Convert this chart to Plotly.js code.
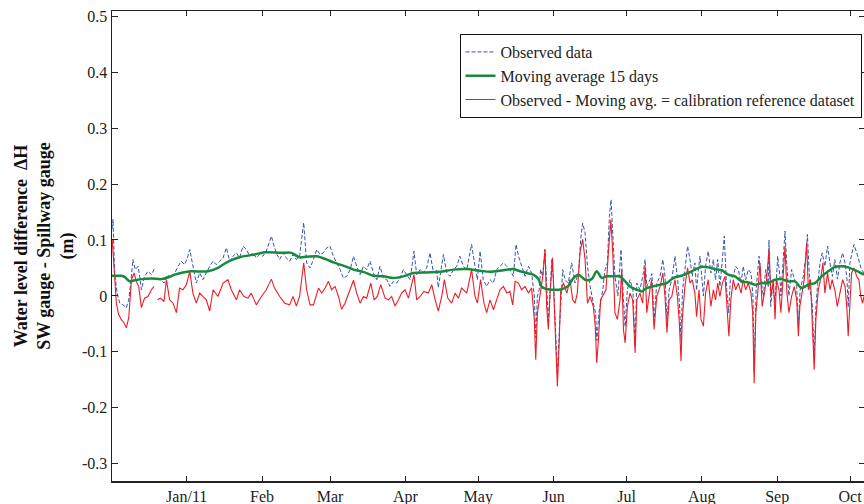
<!DOCTYPE html>
<html>
<head>
<meta charset="utf-8">
<script src="https://cdn.plot.ly/plotly-3.0.1.min.js"></script>
<style>
html,body{margin:0;padding:0;background:#fff;overflow:hidden;}
#chart{width:866px;height:504px;}
</style>
</head>
<body>
<div id="chart"></div>
<script>
// Day offsets measured from 2010-12-01 06:00 (left edge of the plot)
const startDate = "2010-12-01 06:00";

const obsDay = [0,0.4,1.1,2.1,3.2,4.5,5.9,6.9,7.7,8.6,9.6,10.7,11.4,12.1,13.4,14.8,16.2,17.6,18.2,18.7,20.0,21.4,22.8,24.1,25.5,27.2,28.5,29.9,31.0,32.0,33.3,34.7,36.1,37.4,38.8,40.2,41.6,42.9,44.3,45.7,47.1,48.4,49.8,51.2,52.5,53.9,55.3,56.7,58.0,59.4,60.8,62.1,63.5,64.6,65.6,66.7,67.9,69.0,70.4,71.7,73.1,74.5,75.9,77.2,78.9,80.1,81.5,82.9,84.3,85.6,87.0,88.4,89.7,91.1,92.5,93.9,95.2,96.6,98.0,99.4,100.7,102.1,103.5,104.8,106.2,107.6,109.0,110.3,111.7,113.1,114.4,115.8,117.2,118.6,119.9,121.3,122.7,124.3,125.4,126.8,128.2,129.5,130.9,132.3,133.6,134.3,135.0,136.4,137.8,139.1,140.5,141.9,143.2,144.6,146.0,148.0,149.4,150.4,151.5,152.8,154.2,155.6,157.0,158.3,159.7,161.1,162.5,163.8,165.2,166.3,167.3,168.6,170.0,171.4,172.7,173.8,174.4,175.1,175.8,176.4,177.3,178.2,179.0,179.6,180.3,181.0,181.7,182.6,183.3,184.2,185.5,186.5,187.8,189.2,190.6,192.0,192.9,193.7,194.7,195.7,196.8,198.1,199.0,199.6,200.4,202.0,202.9,203.9,204.7,205.4,206.1,207.0,208.2,209.5,210.5,211.2,212.1,213.2,214.4,215.3,216.0,217.3,218.7,219.4,220.1,221.4,222.2,223.1,224.2,225.6,226.7,227.6,228.4,229.3,230.4,231.7,232.8,233.5,234.2,234.8,235.8,236.9,237.9,238.8,239.9,240.6,241.3,242.0,243.4,244.3,245.4,246.5,247.5,248.4,249.3,250.2,251.2,252.0,253.0,253.8,254.5,255.7,256.7,257.8,258.9,259.8,260.8,261.9,263.0,263.8,264.3,265.1,266.3,267.1,268.1,269.0,270.1,270.4,271.1,271.9,272.9,273.6,274.0,274.9,275.3,275.9,277.0,277.7,278.6,279.7,280.8,281.8,282.5,283.2,284.5,285.6,286.2,287.3,288.2,289.0,289.7,290.4,291.4,292.3,293.4,294.5,295.5,296.5,297.5,298.6,299.6,300.7,301.7,302.5,303.0,303.7,304.4,305.4,306.5,307.4,308.5,309.5];
const obsVal = [0.12,0.137,0.041,0.005,-0.013,-0.016,-0.021,-0.007,0.023,0.065,0.047,0.053,0.035,0.011,0.035,0.044,0.038,0.050,null,0.032,0.029,0.023,0.038,0.032,0.038,0.053,0.062,0.056,0.068,0.083,0.053,0.023,0.041,0.029,0.041,0.053,0.062,0.056,0.062,0.068,0.086,0.062,0.071,0.077,0.068,0.089,0.083,0.071,0.077,0.068,0.074,0.071,0.080,0.095,0.107,0.089,0.074,0.065,0.077,0.068,0.062,0.074,0.065,0.071,0.131,0.059,0.050,0.065,0.083,0.074,0.077,0.086,0.089,0.071,0.059,0.047,0.032,0.035,0.047,0.071,0.053,0.038,0.053,0.047,0.062,0.041,0.029,0.053,0.032,0.029,0.017,0.026,0.023,0.032,0.047,0.038,0.029,0.080,0.038,0.047,0.041,0.050,0.077,0.041,0.047,0.015,0.035,0.074,0.041,0.035,0.047,0.053,0.071,0.053,0.047,0.092,0.053,0.029,0.080,0.029,0.017,0.029,0.023,0.047,0.053,0.059,0.053,0.047,0.035,0.092,0.071,0.053,0.035,0.053,0.041,0.000,-0.075,0.000,0.011,0.047,0.035,0.083,0.017,-0.045,0.005,0.065,0.029,-0.060,-0.140,-0.054,0.047,0.029,0.023,0.059,0.023,0.041,0.101,0.130,0.113,0.053,0.017,-0.013,-0.030,-0.080,-0.030,0.011,0.047,0.059,0.142,0.172,0.119,0.035,0.000,0.083,-0.007,-0.055,0.011,0.029,0.010,-0.090,0.023,0.011,0.041,0.065,0.017,0.029,0.040,-0.045,0.023,0.035,0.065,0.035,-0.045,0.011,0.029,0.071,0.029,-0.010,-0.080,0.010,0.047,0.089,0.065,0.035,0.059,0.010,0.045,0.071,0.000,0.053,0.080,0.041,0.065,0.029,0.065,0.017,0.065,0.107,0.011,-0.030,0.029,0.035,0.053,0.047,0.023,0.053,0.029,0.047,0.041,0.000,-0.135,0.011,0.071,0.029,-0.001,0.047,0.017,0.100,-0.019,0.017,-0.010,0.060,0.071,0.035,0.000,0.041,0.116,0.059,0.000,0.047,0.029,0.017,-0.055,0.010,0.035,0.071,0.110,0.011,-0.013,-0.110,-0.020,0.020,0.059,0.077,0.053,0.089,0.059,0.035,0.065,0.030,0.059,0.077,0.059,0.030,-0.020,0.059,0.074,0.092,0.077,0.065,0.047,0.041];

const avgDay = [0,3.8,5.2,7.3,9.3,12.1,16.2,20.3,23.0,25.8,29.2,32.6,39.5,43.6,46.4,49.1,53.2,58.7,62.8,69.7,73.8,77.2,80.1,84.3,88.4,91.1,93.9,96.6,99.4,103.5,107.6,111.7,115.8,119.9,124.0,129.5,135.0,140.5,146.0,151.5,155.6,161.1,165.2,168.0,170.7,173.4,175.5,176.9,179.6,182.4,185.1,187.8,189.9,192.0,194.7,197.4,199.5,201.6,203.6,206.4,209.1,211.2,213.2,216.0,218.0,220.1,222.8,225.6,228.3,231.0,234.4,237.2,239.9,242.7,245.4,248.2,250.9,253.6,256.4,259.1,261.9,264.6,267.4,270.1,272.9,275.6,278.3,281.1,283.8,286.6,289.3,292.1,294.8,297.5,300.3,303.0,305.8,309.5];
const avgVal = [0.036,0.036,0.034,0.026,0.028,0.030,0.031,0.030,0.033,0.038,0.042,0.044,0.044,0.050,0.058,0.064,0.070,0.074,0.078,0.077,0.077,0.069,0.070,0.071,0.065,0.060,0.056,0.052,0.047,0.043,0.036,0.035,0.032,0.035,0.041,0.042,0.043,0.047,0.048,0.045,0.043,0.046,0.048,0.044,0.041,0.038,0.030,0.016,0.012,0.011,0.012,0.018,0.032,0.038,0.029,0.030,0.044,0.032,0.035,0.035,0.035,0.026,0.017,0.011,0.008,0.014,0.017,0.020,0.023,0.032,0.036,0.041,0.047,0.052,0.051,0.048,0.046,0.038,0.035,0.026,0.024,0.020,0.023,0.023,0.029,0.030,0.026,0.026,0.014,0.020,0.023,0.035,0.044,0.052,0.053,0.051,0.046,0.038];

const resDay = [0.1,0.8,1.8,2.7,3.8,4.9,5.9,6.9,8.0,9.1,10.0,11.0,12.1,13.4,14.8,16.2,17.3,18.2,18.7,20.0,21.4,22.4,23.7,25.1,26.5,27.8,29.2,30.6,32.0,33.3,34.7,36.1,37.4,38.8,40.2,41.6,43.6,45.7,47.7,49.1,51.2,52.5,54.3,56.0,57.3,59.4,61.5,63.5,65.6,66.9,69.0,71.1,73.1,74.5,75.9,77.2,78.9,80.1,81.5,82.9,85.0,86.3,87.7,89.1,90.4,91.8,93.2,94.5,95.9,97.3,99.4,100.7,102.1,103.5,104.8,106.5,107.9,109.2,110.6,112.4,113.8,115.1,116.5,117.9,119.2,120.6,122.0,124.3,125.4,126.8,128.4,130.2,131.6,133.0,134.3,135.7,136.8,138.2,139.8,141.2,142.6,143.9,146.0,148.0,149.4,150.4,151.7,153.1,154.2,155.6,157.0,158.3,159.7,161.1,162.5,163.8,164.9,165.9,167.3,168.6,170.0,171.4,172.7,173.8,174.4,175.1,176.2,177.3,178.2,178.9,179.6,180.3,181.3,181.9,182.6,183.3,184.0,184.7,185.8,187.2,188.5,189.6,190.6,191.5,192.6,193.7,194.7,195.7,196.8,198.1,198.9,199.5,200.3,201.1,202.2,203.3,204.3,205.3,206.1,207.0,208.0,209.1,209.8,210.5,211.2,212.1,213.2,214.3,215.3,216.0,217.3,218.4,219.4,220.1,221.4,222.1,223.1,224.2,225.6,226.7,227.6,228.4,229.3,230.4,231.7,232.7,233.5,234.2,234.7,235.8,236.9,237.9,238.8,239.9,240.6,241.6,242.4,243.4,244.3,245.4,246.5,247.5,248.4,249.3,250.2,251.2,252.3,253.2,253.9,254.7,255.7,256.7,257.8,258.9,259.8,260.8,261.9,263.0,263.7,264.3,265.0,266.0,266.7,267.6,268.5,269.4,270.4,271.2,272.2,272.9,273.5,274.5,275.3,276.3,277.0,277.8,278.6,279.7,280.8,281.8,282.5,283.1,284.1,284.9,285.9,286.6,287.5,288.2,289.0,289.7,290.7,291.6,292.6,293.4,294.5,295.5,296.4,297.5,298.5,299.6,300.7,301.7,302.5,303.0,303.7,304.4,305.4,306.5,307.4,308.2,308.9,309.5];
const resVal = [0.100,0.047,-0.013,-0.033,-0.042,-0.048,-0.057,-0.039,0.029,0.041,0.026,0.017,-0.021,-0.004,-0.001,0.011,0.017,null,-0.007,-0.004,-0.010,0.029,-0.007,-0.013,-0.030,0.014,0.011,0.020,0.044,0.005,-0.013,0.005,-0.001,-0.007,-0.027,0.011,-0.001,0.023,0.029,0.011,-0.007,0.011,-0.001,-0.004,0.005,-0.016,-0.001,0.011,0.030,0.014,-0.001,-0.013,-0.016,-0.001,-0.018,-0.001,0.059,0.011,-0.016,-0.016,0.014,0.005,0.014,0.026,0.011,0.017,-0.001,-0.024,-0.013,0.005,0.028,0.005,-0.013,-0.001,-0.004,0.023,-0.007,-0.001,0.020,-0.004,-0.007,-0.001,-0.018,-0.007,0.005,0.011,-0.004,0.038,-0.007,-0.001,0.008,0.005,0.020,-0.007,-0.027,-0.001,0.029,-0.004,-0.013,0.005,-0.004,0.014,0.005,0.047,-0.001,-0.013,0.029,-0.013,-0.030,-0.007,-0.025,-0.007,0.011,0.017,0.005,0.008,-0.016,0.026,0.023,0.011,0.017,0.005,0.014,-0.042,-0.114,-0.030,-0.001,0.035,0.083,-0.019,-0.060,0.005,0.068,-0.001,-0.078,-0.162,-0.090,0.011,0.023,0.005,0.029,-0.007,-0.013,0.005,0.077,0.101,0.065,-0.013,-0.001,-0.019,-0.054,-0.120,-0.072,-0.007,0.002,0.011,0.077,0.136,0.077,-0.030,-0.042,-0.007,0.047,-0.060,-0.084,-0.019,0.005,-0.007,-0.102,-0.007,0.005,-0.013,0.053,-0.030,0.011,0.029,-0.060,-0.001,0.017,0.041,-0.001,-0.066,-0.007,-0.001,0.029,-0.001,-0.048,-0.117,-0.042,0.017,0.050,0.023,0.029,0.005,-0.037,0.011,-0.042,-0.054,0.005,0.029,-0.019,0.011,-0.007,0.023,-0.001,0.023,0.035,-0.030,-0.072,-0.007,0.029,0.011,0.023,0.005,0.029,0.011,0.023,0.005,-0.030,-0.156,-0.030,0.017,0.059,-0.019,0.005,0.029,0.083,-0.001,0.029,-0.042,0.029,0.011,-0.030,0.041,0.089,0.005,-0.030,-0.001,0.017,-0.007,-0.072,-0.019,0.011,0.029,0.095,0.011,0.029,-0.042,-0.132,-0.042,0.011,0.029,0.059,0.005,0.041,0.011,0.029,0.011,-0.019,0.005,0.029,0.017,-0.025,-0.072,-0.001,0.041,0.050,0.035,0.029,-0.001,-0.013,-0.001];

const monthTicks = ["2011-01-01","2011-02-01","2011-03-01","2011-04-01","2011-05-01","2011-06-01","2011-07-01","2011-08-01","2011-09-01","2011-10-01"];
const monthLabels = ["Jan/11","Feb","Mar","Apr","May","Jun","Jul","Aug","Sep","Oct"];
const yTicks = [-0.3,-0.2,-0.1,0,0.1,0.2,0.3,0.4,0.5];
const yLabels = ["-0.3","-0.2","-0.1","0","0.1","0.2","0.3","0.4","0.5"];

const base = Date.parse(startDate.replace(" ","T") + ":00Z");
function toDate(d){
  const t = new Date(base + d*86400000);
  return t.toISOString().slice(0,19).replace("T"," ");
}

const font = "Liberation Serif, Times New Roman, serif";

const traces = [
  {x: obsDay.map(toDate), y: obsVal, type:"scatter", mode:"lines", name:"Observed data",
   line:{color:"#3653b0", width:1, dash:"4px,2px"}, legendrank:1, connectgaps:false},
  {x: resDay.map(toDate), y: resVal, type:"scatter", mode:"lines", name:"Observed - Moving avg. = calibration reference dataset",
   line:{color:"#ee1c25", width:1.1}, legendrank:3, connectgaps:false},
  {x: avgDay.map(toDate), y: avgVal, type:"scatter", mode:"lines", name:"Moving average 15 days",
   line:{color:"#188a3c", width:2.5, shape:"spline", smoothing:0.8}, legendrank:2}
];

const layout = {
  width:866, height:504,
  margin:{l:112, r:1, t:11, b:23, pad:0},
  paper_bgcolor:"#fff", plot_bgcolor:"#fff",
  font:{family:font, size:16, color:"#222"},
  showlegend:true,
  legend:{x:0.4615, y:0.951, xanchor:"left", yanchor:"top", bgcolor:"#fff",
          bordercolor:"#111", borderwidth:1, font:{family:font, size:16, color:"#222"},
          tracegroupgap:0, itemwidth:30},
  xaxis:{type:"date", range:["2010-12-01 06:00","2011-10-07 04:00"],
         tickmode:"array", tickvals:monthTicks, ticktext:monthLabels,
         ticks:"inside", ticklen:5, tickcolor:"#222", tickwidth:1,
         showline:true, linecolor:"#222", linewidth:1.5, mirror:"ticks",
         showgrid:false, zeroline:false,
         tickfont:{family:font, size:16, color:"#222"}},
  yaxis:{range:[-0.331,0.5095], tickmode:"array", tickvals:yTicks, ticktext:yLabels,
         ticks:"inside", ticklen:6, tickcolor:"#222", tickwidth:1,
         showline:true, linecolor:"#222", linewidth:1.5, mirror:"ticks",
         showgrid:false, zeroline:false,
         tickfont:{family:font, size:16, color:"#222"},
         title:{text:"<b>Water level difference  ΔH<br>SW gauge - Spillway gauge<br>(m)</b>",
                font:{family:font, size:18, color:"#111"}, standoff:3}}
};

Plotly.newPlot("chart", traces, layout, {displayModeBar:false, staticPlot:true});
</script>
</body>
</html>
